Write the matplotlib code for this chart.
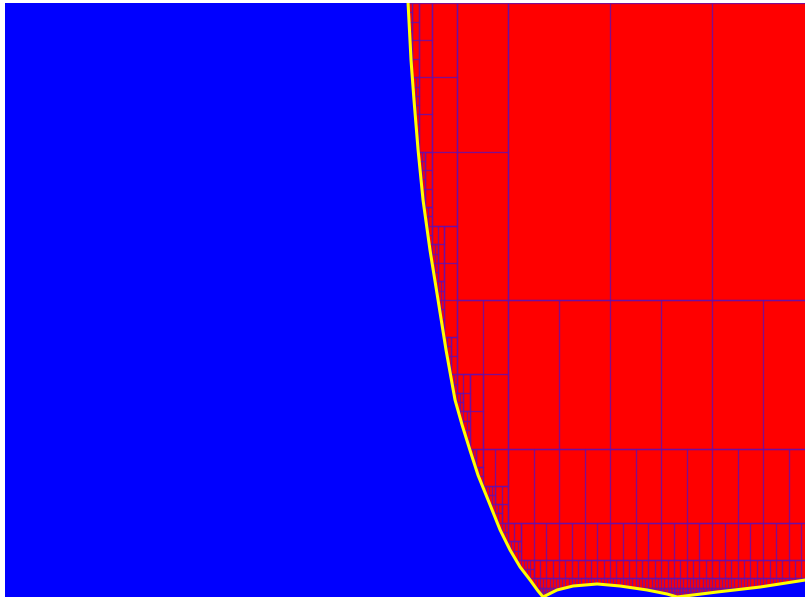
import numpy as np
import matplotlib
matplotlib.use("Agg")
import matplotlib.pyplot as plt
from matplotlib.collections import LineCollection
from matplotlib.patches import Polygon

# front between the two phases, traced from the top edge down to the wall and along it
FRONT_X = [0.02, 0.049, 0.078, 0.118, 0.167, 0.235, 0.314, 0.392, 0.48, 0.549,
           0.627, 0.706, 0.824, 0.922, 1.02, 1.118, 1.216, 1.294, 1.343,
           1.48, 1.637, 1.873, 2.098, 2.363, 2.559, 2.657, 3.049, 3.471, 3.912, 4.0]
FRONT_Y = [1.0, 0.904, 0.837, 0.753, 0.668, 0.584, 0.50, 0.416, 0.332, 0.29,
           0.247, 0.205, 0.155, 0.113, 0.079, 0.0505, 0.0286, 0.0101, 0.0,
           0.0118, 0.0185, 0.0219, 0.0185, 0.0118, 0.005, 0.0, 0.0084, 0.0168, 0.0286, 0.031]

# coarse cells of the adaptive mesh
ROOT_X = [-4.0, -2.0, 0.0, 2.0, 4.0]
ROOT_Y = [0.0, 1.0]
FRONT_LEVEL = 6
WALL_LEVEL = 7

PHASE_A = "#0000ff"
PHASE_B = "#ff0000"
FRONT_COLOR = "#ffff00"
MESH_COLOR = "#6a10a8"


def segment_hits_box(p, q, x0, x1, y0, y1):
    # Liang-Barsky clip test
    t0, t1 = 0.0, 1.0
    dx, dy = q[0] - p[0], q[1] - p[1]
    for pk, qk in ((-dx, p[0] - x0), (dx, x1 - p[0]), (-dy, p[1] - y0), (dy, y1 - p[1])):
        if pk == 0:
            if qk < 0:
                return False
            continue
        t = qk / pk
        if pk < 0:
            t0 = max(t0, t)
        else:
            t1 = min(t1, t)
        if t0 > t1:
            return False
    return True


def crosses_front(x0, x1, y0, y1):
    pts = list(zip(FRONT_X, FRONT_Y))
    return any(segment_hits_box(a, b, x0, x1, y0, y1) for a, b in zip(pts[:-1], pts[1:]))


def refine(x0, x1, y0, y1, level, leaves):
    split = (level < FRONT_LEVEL and crosses_front(x0, x1, y0, y1)) or \
            (level < WALL_LEVEL and y0 == 0.0)
    if not split:
        leaves.append((x0, x1, y0, y1))
        return
    xm, ym = 0.5 * (x0 + x1), 0.5 * (y0 + y1)
    refine(x0, xm, y0, ym, level + 1, leaves)
    refine(xm, x1, y0, ym, level + 1, leaves)
    refine(x0, xm, ym, y1, level + 1, leaves)
    refine(xm, x1, ym, y1, level + 1, leaves)


def main() -> None:
    leaves = []
    for i in range(len(ROOT_X) - 1):
        refine(ROOT_X[i], ROOT_X[i + 1], ROOT_Y[0], ROOT_Y[1], 0, leaves)

    # each edge once (left and bottom of every leaf, plus the outer top/right)
    edges = set()
    for x0, x1, y0, y1 in leaves:
        edges.update([((x0, y0), (x1, y0)), ((x1, y0), (x1, y1)),
                      ((x0, y1), (x1, y1)), ((x0, y0), (x0, y1))])

    fig = plt.figure(figsize=(8.05, 6.0), dpi=100)
    fig.patch.set_facecolor("white")
    ax = fig.add_axes([5 / 805, 3 / 600, 800 / 805, 594 / 600])
    ax.set_facecolor(PHASE_B)

    ax.add_collection(LineCollection(list(edges), colors=MESH_COLOR, linewidths=0.95,
                                     alpha=0.85, zorder=2))

    outline = [(-4.2, 1.2), (FRONT_X[0], 1.2)] + list(zip(FRONT_X, FRONT_Y)) + \
              [(4.2, FRONT_Y[-1]), (4.2, -0.2), (-4.2, -0.2)]
    ax.add_patch(Polygon(outline, closed=True, facecolor=PHASE_A, edgecolor="none", zorder=3))
    ax.plot(FRONT_X, FRONT_Y, color=FRONT_COLOR, lw=2.2, zorder=4, solid_capstyle="round")

    ax.set_xlim(-3.93, 3.91)
    ax.set_ylim(0.0, 1.0)
    ax.set_xticks([])
    ax.set_yticks([])
    for spine in ax.spines.values():
        spine.set_visible(False)
    fig.savefig("out.png", dpi=100, facecolor="white")
    plt.close(fig)


if __name__ == "__main__":
    main()
